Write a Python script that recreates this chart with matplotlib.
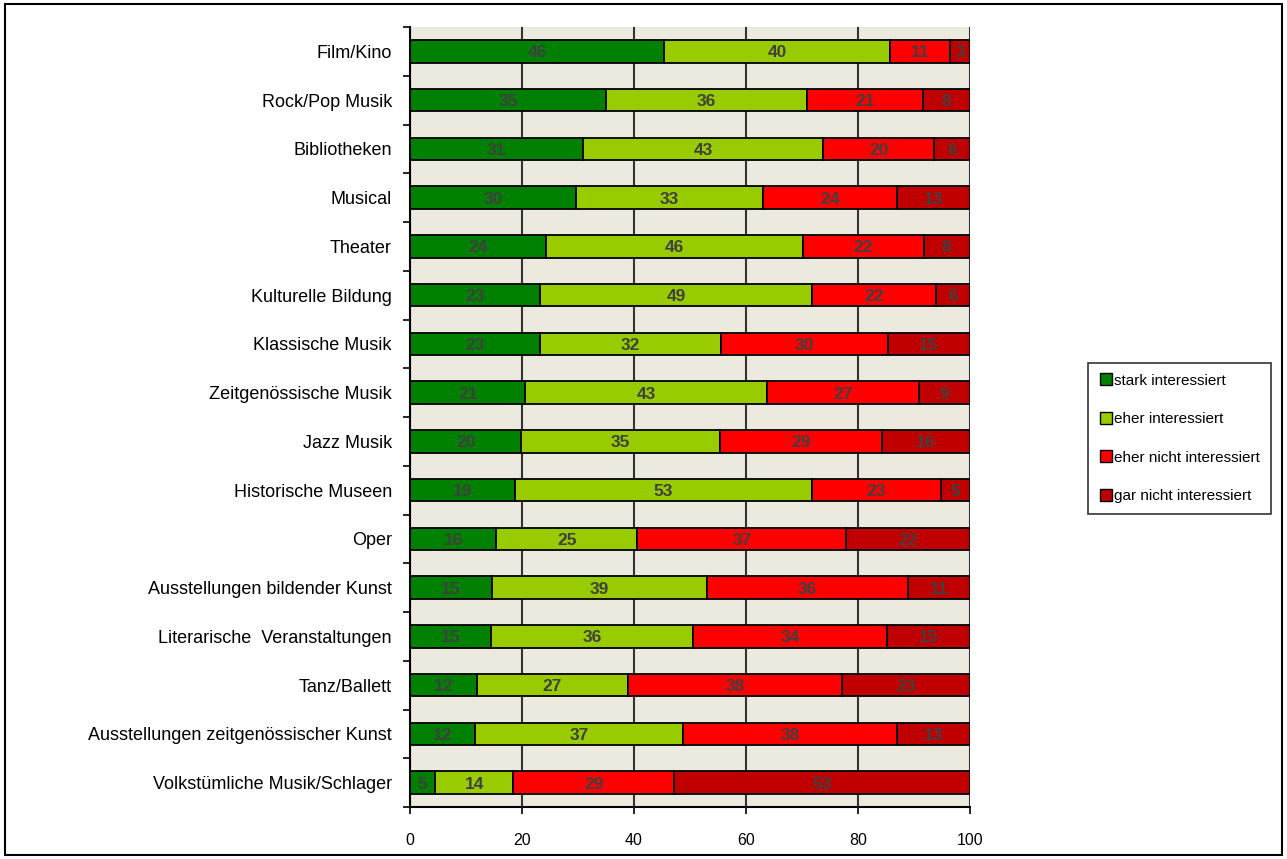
import numpy as np
import matplotlib
matplotlib.use("Agg")
import matplotlib.pyplot as plt
from matplotlib.patches import Rectangle
from matplotlib.lines import Line2D

plt.rcParams['font.family'] = ['Liberation Sans', 'DejaVu Sans']

# categories, top to bottom
categories = ["Film/Kino", "Rock/Pop Musik", "Bibliotheken", "Musical", "Theater",
              "Kulturelle Bildung", "Klassische Musik", "Zeitgenössische Musik", "Jazz Musik",
              "Historische Museen", "Oper", "Ausstellungen bildender Kunst",
              "Literarische  Veranstaltungen", "Tanz/Ballett",
              "Ausstellungen zeitgenössischer Kunst", "Volkstümliche Musik/Schlager"]

series_names = ["stark interessiert", "eher interessiert",
                "eher nicht interessiert", "gar nicht interessiert"]

# bar widths (percent)
stark = [45.4, 35.0, 30.9, 29.7, 24.2, 23.2, 23.2, 20.6, 19.9, 18.7, 15.4, 14.6, 14.4, 11.9, 11.6, 4.5]
eher = [40.4, 35.9, 42.9, 33.3, 45.9, 48.6, 32.3, 43.2, 35.4, 53.1, 25.2, 38.5, 36.2, 27.1, 37.2, 13.9]
eher_nicht = [10.7, 20.7, 19.8, 23.9, 21.6, 22.1, 29.9, 27.1, 28.9, 23.0, 37.3, 35.8, 34.5, 38.2, 38.2, 28.8]
gar_nicht = [3.5, 8.4, 6.4, 13.1, 8.3, 6.1, 14.6, 9.1, 15.8, 5.2, 22.1, 11.1, 14.9, 22.8, 13.0, 52.8]

# labels printed in the bars
stark_lbl = [46, 35, 31, 30, 24, 23, 23, 21, 20, 19, 16, 15, 15, 12, 12, 5]
eher_lbl = [40, 36, 43, 33, 46, 49, 32, 43, 35, 53, 25, 39, 36, 27, 37, 14]
eher_nicht_lbl = [11, 21, 20, 24, 22, 22, 30, 27, 29, 23, 37, 36, 34, 38, 38, 29]
gar_nicht_lbl = [3, 8, 6, 13, 8, 6, 15, 9, 16, 5, 22, 11, 15, 23, 13, 53]

colors = ["#008000", "#99CC00", "#FF0000", "#C00000"]

W, H = 1287, 859
fig = plt.figure(figsize=(W / 100, H / 100), dpi=100)
ax = fig.add_axes([410 / W, 1 - 807 / H, 560 / W, 780 / H])
ax.set_facecolor("#ECE9DF")

y = np.arange(len(categories))
values = [stark, eher, eher_nicht, gar_nicht]
labels = [stark_lbl, eher_lbl, eher_nicht_lbl, gar_nicht_lbl]
left = np.zeros(len(categories))
for vals, lbls, col, name in zip(values, labels, colors, series_names):
    vals = np.array(vals)
    ax.barh(y, vals, left=left, height=0.46, color=col, edgecolor="black",
            linewidth=1.3, label=name, zorder=3)
    for yi, l, v, t in zip(y, left, vals, lbls):
        ax.text(l + v / 2, yi + 0.03, str(t), ha="center", va="center", fontsize=12.5,
                fontweight="bold", color="#404040", zorder=4)
    left += vals

ax.set_xlim(0, 100)
ax.set_ylim(len(categories) - 0.5, -0.5)
ax.set_xticks(np.arange(0, 101, 20))
ax.tick_params(axis="x", direction="out", length=5, width=1.2, labelsize=11.5, pad=14)
ax.set_yticks(y)
ax.set_yticklabels(categories, fontsize=13)
ax.tick_params(axis="y", which="major", length=0, pad=13)
ax.set_yticks(np.arange(-0.5, len(categories), 1), minor=True)
ax.tick_params(axis="y", which="minor", direction="out", length=5, width=1.2)

ax.xaxis.grid(True, color="#333333", linewidth=1.5, zorder=1)
ax.set_axisbelow(True)
for s in ["top", "right"]:
    ax.spines[s].set_visible(False)
for s in ["left", "bottom"]:
    ax.spines[s].set_linewidth(1.5)
    ax.spines[s].set_zorder(5)

handles = [Line2D([], [], marker="s", linestyle="none", markersize=8,
                  markerfacecolor=c, markeredgecolor="black", markeredgewidth=1)
           for c in colors]
leg = fig.legend(handles, series_names, loc="upper left",
                 bbox_to_anchor=(1088 / W, 1 - 363 / H), fontsize=11,
                 frameon=True, fancybox=False, handletextpad=0.0,
                 handlelength=1.0, labelspacing=1.6, borderpad=0.7,
                 borderaxespad=0)
leg.get_frame().set_edgecolor("black")
leg.get_frame().set_linewidth(1.2)

# frame round the whole picture
fig.patches.append(Rectangle((5 / W, 4 / H), 1277 / W, 851 / H, fill=False,
                             edgecolor="black", linewidth=1.5,
                             transform=fig.transFigure, figure=fig))

fig.savefig("out.png", dpi=100)
